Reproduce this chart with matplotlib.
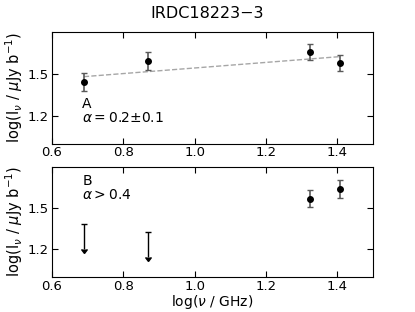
import numpy as np
import matplotlib
matplotlib.use("Agg")
from matplotlib import pyplot as plt

# log frequency (GHz)
logfreq = [0.69, 0.868, 1.322, 1.406]

# component A
fluxA = [1.44, 1.59, 1.655, 1.577]
errA = [0.062, 0.065, 0.06, 0.06]
fit_slope = 0.2
fit_icpt = 1.341

# component B
logfreqB_det = [1.322, 1.406]
fluxB = [1.568, 1.637]
errB = [0.062, 0.063]
logfreqB_lim = [0.69, 0.868]
limB = [1.382, 1.323]
limB_len = [0.18, 0.18]

fig = plt.figure(figsize=(4.15, 3.12), dpi=100)
ax1 = fig.add_axes([0.125, 0.54, 0.774, 0.358])
ax2 = fig.add_axes([0.125, 0.112, 0.774, 0.354])

fig.text(0.5, 0.958, "IRDC18223\u22123", ha="center", va="center", fontsize=11.5)

ax1.errorbar(logfreq, fluxA, yerr=errA, fmt='o', color='black', ms=4,
             ecolor='0.35', elinewidth=1.2, capsize=2, capthick=1)
xfit = np.array([logfreq[0], logfreq[-1]])
ax1.plot(xfit, fit_slope*xfit + fit_icpt, '--', color='0.65', lw=1, zorder=0)
ax1.text(0.685, 1.285, "A", fontsize=10, va='center')
ax1.text(0.685, 1.185, r"$\alpha=$0.2$\pm$0.1", fontsize=10, va='center')

ax2.errorbar(logfreqB_det, fluxB, yerr=errB, fmt='o', color='black', ms=4,
             ecolor='0.35', elinewidth=1.2, capsize=2, capthick=1)
ax2.errorbar(logfreqB_lim, limB, yerr=limB_len, uplims=True, fmt='none',
             color='black', ecolor='black', elinewidth=1, capsize=2, capthick=1)
ax2.text(0.685, 1.695, "B", fontsize=10, va='center')
ax2.text(0.685, 1.595, r"$\alpha>$0.4", fontsize=10, va='center')

for ax in (ax1, ax2):
    ax.set_xlim(0.6, 1.5)
    ax.set_ylim(1.0, 1.8)
    ax.set_xticks([0.6, 0.8, 1.0, 1.2, 1.4])
    ax.set_yticks([1.2, 1.5])
    ax.tick_params(direction='in', top=True, right=True, labelsize=9.5,
                   length=4, pad=2)
    ax.set_ylabel(r"log(I$_\nu$ / $\mu$Jy b$^{-1}$)", fontsize=10.5)
    ax.yaxis.set_label_coords(-0.085, 0.5)

ax2.set_xlabel(r"log($\nu$ / GHz)", fontsize=10, labelpad=0)

fig.savefig("out.png", dpi=100)
